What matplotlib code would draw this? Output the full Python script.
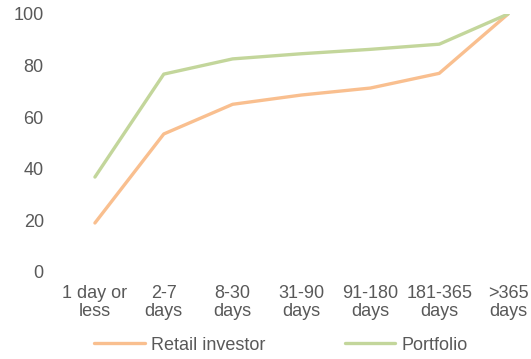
import numpy as np
import matplotlib
matplotlib.use("Agg")
import matplotlib.pyplot as plt

plt.rcParams['font.family'] = ['Liberation Sans', 'DejaVu Sans']

categories = ['1 day or\nless', '2-7\ndays', '8-30\ndays', '31-90\ndays',
              '91-180\ndays', '181-365\ndays', '>365\ndays']
retail = [19, 53.5, 65, 68.6, 71.3, 77, 100]
portfolio = [36.8, 76.7, 82.6, 84.6, 86.3, 88.3, 100]

W, H = 531, 359
fig = plt.figure(figsize=(W / 100, H / 100), dpi=100)
# axes runs past the right edge, the source image is cropped there
ax = fig.add_axes([60.5 / W, 87 / H, 482 / W, 258 / H])

x = np.arange(len(categories))
ax.plot(x, retail, color='#F9BF8F', lw=2.4, label='Retail investor', solid_capstyle='round')
ax.plot(x, portfolio, color='#C3D69B', lw=2.4, label='Portfolio', solid_capstyle='round')

ax.set_xlim(-0.5, len(categories) - 0.5)
ax.set_ylim(0, 100)
ax.set_yticks([0, 20, 40, 60, 80, 100])
ax.set_xticks(x)
ax.set_xticklabels(categories, linespacing=1.1)
ax.tick_params(length=0, labelsize=13, colors='#595959')
ax.tick_params(axis='y', pad=12)
ax.tick_params(axis='x', pad=9)
for s in ax.spines.values():
    s.set_visible(False)

leg = fig.legend(loc='center', bbox_to_anchor=(281 / W, 1 - 345 / H), ncol=2,
                 frameon=False, fontsize=13, handlelength=2.8, handletextpad=0.35,
                 columnspacing=4.4)
for t in leg.get_texts():
    t.set_color('#595959')

fig.savefig('out.png', dpi=100)
